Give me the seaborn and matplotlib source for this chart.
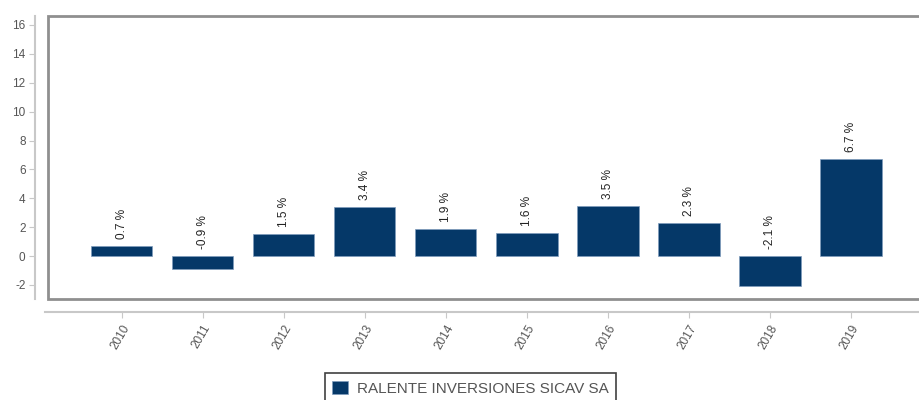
import pandas as pd
import matplotlib.pyplot as plt
import seaborn as sns

# data
years = ["2010", "2011", "2012", "2013", "2014", "2015", "2016", "2017", "2018", "2019"]
returns = [0.7, -0.9, 1.5, 3.4, 1.9, 1.6, 3.5, 2.3, -2.1, 6.7]
series_name = "RALENTE INVERSIONES SICAV SA"
y_ticks = [-2, 0, 2, 4, 6, 8, 10, 12, 14, 16]

bar_color = "#053868"

sns.set_style("white")
plt.rcParams["font.family"] = ["Liberation Sans", "DejaVu Sans"]
plt.rcParams["axes.unicode_minus"] = False

df = pd.DataFrame({"year": years, "value": returns})

fig = plt.figure(figsize=(9.2, 4.0), dpi=100)
# right edge of the plot box runs off the image, as in the reference
ax = fig.add_axes([0.052, 0.2525, 0.953, 0.7075])

sns.barplot(data=df, x="year", y="value", color=bar_color, width=0.76,
            saturation=1, label=series_name, ax=ax,
            edgecolor="#7f9cbd", linewidth=0.5)

ax.set_ylim(-2.97, 16.62)
ax.set_xlim(-0.91, 9.91)
ax.set_yticks(y_ticks)
ax.set_xlabel("")
ax.set_ylabel("")

# box around plot area
ax.patch.set_edgecolor("#8f8f8f")
ax.patch.set_linewidth(2.0)
ax.spines["top"].set_visible(False)
ax.spines["right"].set_visible(False)
for side in ["left", "bottom"]:
    ax.spines[side].set_position(("outward", 9))
    ax.spines[side].set_color("#c8c8c8")
    ax.spines[side].set_linewidth(1.5)
ax.spines["bottom"].set_bounds(-0.95, 9.91)
ax.spines["left"].set_bounds(-2.97, 16.62)

ax.tick_params(axis="y", left=True, length=4, color="#c8c8c8",
               labelsize=8.5, labelcolor="#555555", pad=3)
ax.tick_params(axis="x", bottom=True, length=4, color="#c8c8c8",
               labelsize=8.5, labelcolor="#555555", pad=4)
for lab in ax.get_xticklabels():
    lab.set_rotation(60)
    lab.set_ha("right")
    lab.set_va("top")
    lab.set_rotation_mode("anchor")

# value labels
for i, v in enumerate(returns):
    base = max(v, 0)
    ax.annotate(f"{v} %", (i, base), xytext=(0, 5), textcoords="offset points",
                rotation=90, ha="center", va="bottom", fontsize=8.5, color="#222222")

leg = ax.legend(loc="upper center", bbox_to_anchor=(0.482, -0.2615), frameon=True,
                fontsize=11, handlelength=1.0, handleheight=1.0,
                borderpad=0.5, fancybox=False, handletextpad=0.6,
                borderaxespad=0)
leg.get_frame().set_edgecolor("#111111")
leg.get_frame().set_linewidth(1.2)
for t in leg.get_texts():
    t.set_color("#555555")

fig.savefig("out.png", dpi=100)
